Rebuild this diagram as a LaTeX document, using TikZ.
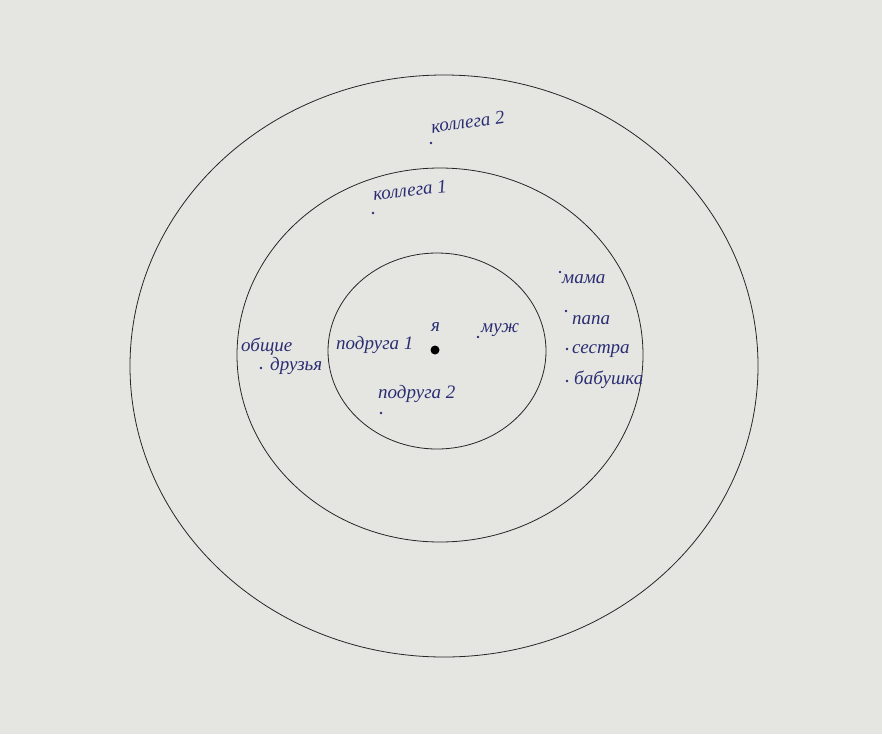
\documentclass[tikz,border=0pt]{standalone}
\usepackage{fontspec}
\setmainfont{Liberation Serif}
\definecolor{paper}{HTML}{E5E6E2}
\definecolor{ink}{HTML}{2A2D72}
\begin{document}
\begin{tikzpicture}[x=1pt,y=-1pt,
  lbl/.style={font=\itshape\fontsize{19}{19}\selectfont, text=ink, inner sep=0pt, anchor=west},
  bullet/.style={circle, fill=ink, inner sep=0pt, minimum size=2.8pt},
  ring/.style={draw=black!85, line width=0.8pt}]
\fill[paper] (0,0) rectangle (882,734);
\useasboundingbox (0,0) rectangle (882,734);
% rings
\draw[ring] (444,366) ellipse [x radius=314, y radius=291];
\draw[ring] (440,355) ellipse [x radius=203, y radius=187];
\draw[ring] (437,351) ellipse [x radius=109, y radius=98];
% centre
\node[circle, fill=black, inner sep=0pt, minimum size=9pt] (me) at (435,350) {};
\node[lbl] (ya) at (431,327) {я};
% labels
\node[bullet] (d1) at (431,143) {};
\node[lbl, rotate=8] (k2) at (431,127) {коллега 2};
\node[bullet] (d2) at (373,213) {};
\node[lbl, rotate=6] (k1) at (373,194) {коллега 1};
\node[bullet] (d3) at (560,272) {};
\node[lbl] (mama) at (562,279) {мама};
\node[bullet] (d4) at (566,311) {};
\node[lbl] (papa) at (572,320) {папа};
\node[bullet] (d5) at (567,349) {};
\node[lbl] (sis) at (572,351) {сестра};
\node[bullet] (d6) at (567,381) {};
\node[lbl] (gran) at (574,380) {бабушка};
\node[bullet] (d7) at (478,337) {};
\node[lbl] (muzh) at (481,330) {муж};
\node[lbl] (p1) at (336,345) {подруга 1};
\node[bullet] (d8) at (381,413) {};
\node[lbl] (p2) at (378,394) {подруга 2};
\node[lbl] (ob) at (241,347) {общие};
\node[bullet] (d9) at (261,368) {};
\node[lbl] (dr) at (270,366) {друзья};
\end{tikzpicture}
\end{document}
